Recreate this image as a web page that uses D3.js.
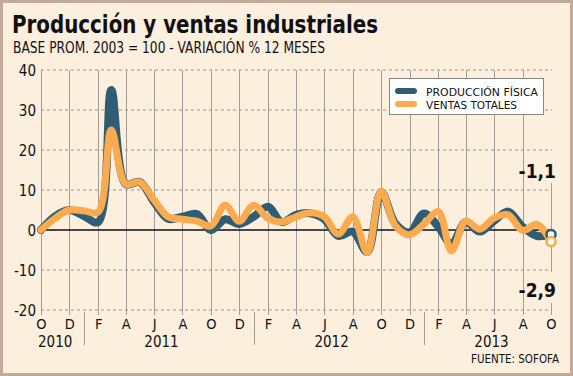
<!DOCTYPE html>
<html><head><meta charset="utf-8">
<script src="https://cdn.jsdelivr.net/npm/d3@7"></script>
<style>
html,body{margin:0;padding:0;background:#fff;}
svg{display:block;}
text{font-family:"DejaVu Sans Condensed","DejaVu Sans",sans-serif;}
</style></head>
<body>
<svg id="c" width="573" height="376"></svg>
<script>
const startMonth = new Date(2010, 9, 1);
const endMonth = new Date(2013, 9, 1);
const produccion = [0, 3.5, 5, 3.5, 2, 35, 11.5, 12, 7, 2.8, 3.3, 4, 0, 2.7, 1.5, 3.3, 5.8, 2, 3.8, 4.2, 2.7, -1.5, -0.4, -5.5, 9.5, 1.5, -0.6, 4.1, 0.8, -3.5, 2, -0.4, 2.3, 4.6, 0.8, -1.5, -1.1];
const ventas = [0, 3, 5, 4.8, 4.5, 25, 11.5, 12, 7.5, 3.3, 2.7, 2.2, 1, 6.2, 2.2, 6.2, 2.9, 2, 3.3, 4.3, 3.3, -1, 3.3, -5.6, 9.7, 1, -1.2, 1.5, 4.6, -5.2, 2.2, 0.2, 3, 3.8, -0.1, 1.4, -2.9];
const yTicks = [40, 30, 20, 10, 0, -10, -20];
const monthTickLabels = ["O","D","F","A","J","A","O","D","F","A","J","A","O","D","F","A","J","A","O"];
const years = ["2010", "2011", "2012", "2013"];
const seriesNames = ["PRODUCCIÓN FÍSICA", "VENTAS TOTALES"];
const endLabels = ["-1,1", "-2,9"];

const months = d3.timeMonth.range(startMonth, d3.timeMonth.offset(endMonth, 1));
const colors = ["#2f5e74", "#fbab4d"];

const svg = d3.select("#c");
const W = 573, H = 376;
svg.append("rect").attr("x", 1.5).attr("y", 1.5).attr("width", W - 3).attr("height", H - 3)
  .attr("fill", "#fcefde").attr("stroke", "#c2aa9a").attr("stroke-width", 3);

const x = d3.scaleTime().domain([startMonth, endMonth]).range([41, 551]);
const y = d3.scaleLinear().domain([-20, 40]).range([310, 70]);

// Title
svg.append("text").attr("x", 12).attr("y", 33).attr("font-size", 25).attr("font-weight", "bold")
  .attr("fill", "#111").attr("textLength", 366).attr("lengthAdjust", "spacingAndGlyphs")
  .text("Producción y ventas industriales");
svg.append("text").attr("x", 13).attr("y", 53).attr("font-size", 15).attr("fill", "#111")
  .attr("textLength", 312).attr("lengthAdjust", "spacingAndGlyphs")
  .text("BASE PROM. 2003 = 100 - VARIACIÓN % 12 MESES");

// horizontal dashed gridlines
const g = svg.append("g");
g.selectAll("line.h").data(yTicks.filter(d => d !== 0)).join("line")
  .attr("x1", 41).attr("x2", 552).attr("y1", d => y(d)).attr("y2", d => y(d))
  .attr("stroke", "#9a938c").attr("stroke-width", 1).attr("stroke-dasharray", "3,3");

// vertical gridlines every two months
const tickDates = months.filter((d, i) => i % 2 === 0);
g.selectAll("line.v").data(tickDates.slice(0, -1)).join("line")
  .attr("x1", d => Math.round(x(d)) + 0.5).attr("x2", d => Math.round(x(d)) + 0.5)
  .attr("y1", 70).attr("y2", 315)
  .attr("stroke", "#a39c95").attr("stroke-width", 1);
// last (Oct 2013) partial line
const xl = Math.round(x(endMonth)) + 0.5;
g.append("line").attr("x1", xl).attr("x2", xl).attr("y1", 183).attr("y2", 272).attr("stroke", "#a39c95");
g.append("line").attr("x1", xl).attr("x2", xl).attr("y1", 303).attr("y2", 315).attr("stroke", "#a39c95");

// zero line
g.append("line").attr("x1", 41).attr("x2", 552).attr("y1", y(0)).attr("y2", y(0))
  .attr("stroke", "#111").attr("stroke-width", 1.3);

// y labels
svg.selectAll("text.yl").data(yTicks).join("text")
  .attr("x", 36).attr("y", d => y(d) + 5.5).attr("text-anchor", "end")
  .attr("font-size", 15).attr("fill", "#111").text(d => d);

// month labels
svg.selectAll("text.ml").data(tickDates).join("text")
  .attr("x", d => x(d) + 0.5).attr("y", 329).attr("text-anchor", "middle")
  .attr("font-size", 14.5).attr("fill", "#111").text((d, i) => monthTickLabels[i]);

// year separators
const janDates = months.filter(d => d.getMonth() === 0);
svg.selectAll("line.ys").data(janDates).join("line")
  .attr("x1", d => Math.round(x(d)) + 0.5).attr("x2", d => Math.round(x(d)) + 0.5)
  .attr("y1", 312).attr("y2", 345).attr("stroke", "#a39c95");

// year labels centred on their months
svg.selectAll("text.yr").data(years).join("text")
  .attr("x", (d, i) => {
    const yr = +d;
    const ms = months.filter(m => m.getFullYear() === yr);
    return (x(ms[0]) + x(ms[ms.length - 1])) / 2 + (i === 3 ? 4 : 0);
  })
  .attr("y", 347).attr("text-anchor", "middle").attr("font-size", 15).attr("fill", "#111")
  .text(d => d);

svg.append("text").attr("x", 559).attr("y", 363).attr("text-anchor", "end").attr("font-size", 12)
  .attr("fill", "#111").attr("textLength", 88).attr("lengthAdjust", "spacingAndGlyphs")
  .text("FUENTE: SOFOFA");

// lines
const line = d3.line().x((d, i) => x(months[i])).y(d => y(d)).curve(d3.curveCatmullRom.alpha(0.5));
svg.append("path").datum(produccion).attr("d", line).attr("fill", "none")
  .attr("stroke", colors[0]).attr("stroke-width", 8).attr("stroke-linejoin", "round").attr("stroke-linecap", "round");
svg.append("path").datum(ventas).attr("d", line).attr("fill", "none")
  .attr("stroke", colors[1]).attr("stroke-width", 7).attr("stroke-linejoin", "round").attr("stroke-linecap", "round");

// end markers
[produccion, ventas].forEach((s, k) => {
  svg.append("circle").attr("cx", x(endMonth)).attr("cy", y(s[s.length - 1])).attr("r", 4.5)
    .attr("fill", "#fff").attr("stroke", colors[k]).attr("stroke-width", 2.5);
});

// end labels
svg.append("text").attr("x", 556).attr("y", 178).attr("text-anchor", "end").attr("font-size", 19)
  .attr("font-weight", "bold").attr("fill", "#111").text(endLabels[0]);
svg.append("text").attr("x", 556).attr("y", 297).attr("text-anchor", "end").attr("font-size", 19)
  .attr("font-weight", "bold").attr("fill", "#111").text(endLabels[1]);

// legend
const lg = svg.append("g");
lg.append("rect").attr("x", 389.5).attr("y", 78.5).attr("width", 154).attr("height", 36)
  .attr("fill", "#fff").attr("stroke", "#8a8580");
seriesNames.forEach((n, k) => {
  const yy = 91 + k * 13;
  lg.append("line").attr("x1", 398).attr("x2", 414).attr("y1", yy).attr("y2", yy)
    .attr("stroke", colors[k]).attr("stroke-width", 6).attr("stroke-linecap", "round");
  lg.append("text").attr("x", 426).attr("y", yy + 4.5).attr("font-size", 11).attr("fill", "#111")
    .attr("textLength", k === 0 ? 112 : 91).attr("lengthAdjust", "spacingAndGlyphs").text(n);
});
</script>
</body></html>
